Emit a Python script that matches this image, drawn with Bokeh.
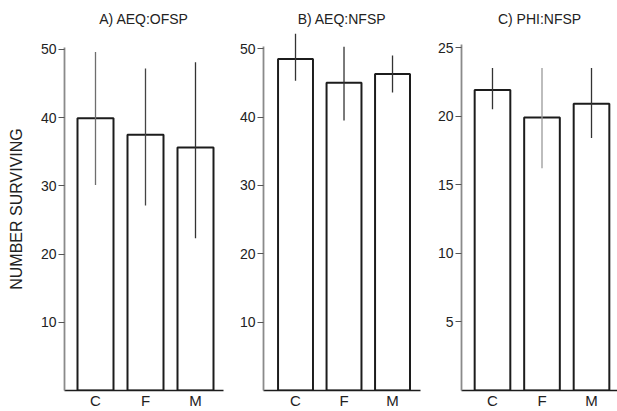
from bokeh.plotting import figure
from bokeh.layouts import row
from bokeh.models import Range1d, FixedTicker, Title, ColumnDataSource
from bokeh.embed import file_html
from bokeh.resources import INLINE

categories = ["C", "F", "M"]

a_mean = [39.9, 37.5, 35.6]
a_low = [30.1, 27.1, 22.3]
a_high = [49.6, 47.2, 48.1]

b_mean = [48.5, 45.0, 46.3]
b_low = [45.3, 39.5, 43.6]
b_high = [52.2, 50.3, 49.0]

c_mean = [21.9, 19.9, 20.9]
c_low = [20.5, 16.2, 18.4]
c_high = [23.5, 23.5, 23.5]

a_ticks = [10, 20, 30, 40, 50]
b_ticks = [10, 20, 30, 40, 50]
c_ticks = [5, 10, 15, 20, 25]

titles = ["A) AEQ:OFSP", "B) AEQ:NFSP", "C) PHI:NFSP"]
y_label = "NUMBER SURVIVING"

FONT = "Liberation Sans"
INK = "#1c1c1c"


def panel(title, mean, low, high, ticks, width, left, right, xr, yr, axis_top,
          title_offset, err_colors, ylabel=None):
    p = figure(width=width, height=411, output_backend="svg", toolbar_location=None,
               x_range=Range1d(*xr), y_range=Range1d(*yr),
               min_border_left=left, min_border_right=right,
               min_border_top=27, min_border_bottom=21)
    p.outline_line_color = None
    p.grid.visible = False
    p.background_fill_color = "white"
    p.border_fill_color = "white"
    xs = list(range(len(categories)))
    src = ColumnDataSource(dict(x=xs, top=mean, low=low, high=high, col=err_colors))
    p.vbar(x="x", top="top", bottom=0, width=0.72, source=src,
           fill_color="white", line_color=INK, line_width=2)
    p.segment(x0="x", y0="low", x1="x", y1="high", source=src,
              line_color="col", line_width=1.3)

    p.xaxis.ticker = FixedTicker(ticks=xs)
    p.xaxis.major_label_overrides = {i: c for i, c in enumerate(categories)}
    p.xaxis.major_tick_line_color = None
    p.xaxis.major_tick_out = 0
    p.xaxis.major_tick_in = 0
    p.xaxis.minor_tick_line_color = None
    p.xaxis.minor_tick_out = 0
    p.xaxis.axis_line_color = INK
    p.xaxis.axis_line_width = 1.5
    p.xaxis.major_label_standoff = 1
    p.xaxis.major_label_text_font = FONT
    p.xaxis.major_label_text_font_size = "15px"
    p.xaxis.major_label_text_color = "#222222"

    p.yaxis.ticker = FixedTicker(ticks=ticks)
    p.yaxis.bounds = (0, axis_top)
    p.yaxis.axis_line_color = "#8a8a8a"
    p.yaxis.axis_line_width = 1.8
    p.yaxis.major_tick_out = 6
    p.yaxis.major_tick_in = 0
    p.yaxis.major_tick_line_color = "#555555"
    p.yaxis.minor_tick_line_color = None
    p.yaxis.major_label_standoff = 2
    p.yaxis.major_label_text_font = FONT
    p.yaxis.major_label_text_font_size = "14px"
    p.yaxis.major_label_text_color = "#222222"
    if ylabel:
        p.yaxis.axis_label = ylabel
        p.yaxis.axis_label_text_font = FONT
        p.yaxis.axis_label_text_font_size = "16px"
        p.yaxis.axis_label_text_font_style = "normal"
        p.yaxis.axis_label_text_color = "#222222"
        p.yaxis.axis_label_standoff = 13

    p.add_layout(Title(text=title, align="center", offset=title_offset,
                       text_font=FONT, text_font_size="14px",
                       text_font_style="normal", text_color="#222222",
                       standoff=1), "above")
    return p


pa = panel(titles[0], a_mean, a_low, a_high, a_ticks, 228, 64, 5,
           (-0.62, 2.56), (0, 53.2), 50.3, 0, ["#6e6e6e", "#444444", "#333333"], y_label)
pb = panel(titles[1], b_mean, b_low, b_high, b_ticks, 196, 35, 4,
           (-0.66, 2.577), (0, 53.1), 50.3, -8, ["#333333", "#333333", "#333333"])
pc = panel(titles[2], c_mean, c_low, c_high, c_ticks, 193, 37, 0,
           (-0.626, 2.525), (0, 26.46), 25.2, -9, ["#333333", "#9a9a9a", "#333333"])

layout = row(pa, pb, pc, spacing=0)
open("out.html", "w").write(file_html(layout, INLINE))
